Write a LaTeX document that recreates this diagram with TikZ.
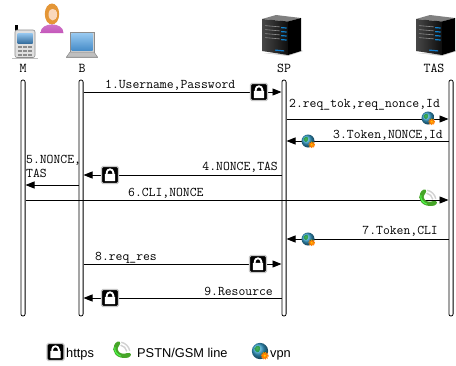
\documentclass[tikz,border=0pt]{standalone}
\usepackage{fontspec}
\setmainfont{Liberation Sans}
\usetikzlibrary{arrows.meta}

\definecolor{hair}{RGB}{228,150,55}
\definecolor{skin}{RGB}{250,216,188}
\definecolor{dress}{RGB}{196,86,186}
\definecolor{screenblue}{RGB}{70,140,200}
\definecolor{lightblue}{RGB}{150,200,240}
\definecolor{phonegreen}{RGB}{70,165,40}

\tikzset{
  % padlock badge for https
  lockicon/.pic={
    \draw[black!22, line width=1.2pt, fill=black, rounded corners=1.5pt] (-8.5,-8.5) rectangle (8.5,8.5);
    \fill[white, rounded corners=0.6pt] (-5.2,-6.2) rectangle (5.2,1.2);
    \draw[white, line width=1.9pt] (-3.3,0.5) -- (-3.3,2.4) arc[start angle=180, end angle=0, radius=3.3] -- (3.3,0.5);
  },
  % globe with gear for vpn
  globeicon/.pic={
    \shade[ball color=screenblue!80!cyan] (0,0) circle (6.5);
    \fill[green!55!black, opacity=0.65] (-4.5,2) .. controls (-2.5,5.5) and (1,4.5) .. (0,1) .. controls (-1,-2) and (-3.5,-1.5) .. cycle;
    \fill[green!50!black, opacity=0.55] (1,-2) .. controls (4,-1) and (5.5,2) .. (4.5,-3) -- cycle;
    \draw[orange, line width=1.3pt, dash pattern=on 1pt off 0.9pt] (3.8,-3.8) circle (2.6);
    \fill[orange] (3.8,-3.8) circle (2.3);
    \fill[yellow!70!orange] (3.8,-3.8) circle (0.9);
  },
  % telephone handset for PSTN/GSM
  phoneicon/.pic={
    \draw[black!18, line width=1.4pt] (-3,-3) ++(12:8) arc[start angle=12, end angle=78, radius=8];
    \draw[black!18, line width=1.4pt] (-3,-3) ++(12:11) arc[start angle=12, end angle=78, radius=11];
    \draw[phonegreen, line width=4.2pt, line cap=round] (-5.5,4.5) .. controls (-9,0) and (-4,-7.5) .. (4.5,-5.5);
    \fill[phonegreen, rotate around={50:(-4.8,5.4)}] (-4.8,5.4) ellipse (3.8 and 2.3);
    \fill[phonegreen, rotate around={20:(5.4,-5.4)}] (5.4,-5.4) ellipse (3.8 and 2.3);
    \draw[green!70!white, line width=1pt, line cap=round] (-7,2.5) .. controls (-7.8,-1) and (-5.5,-4.5) .. (-1.5,-6);
  },
  % rack server
  serverpic/.pic={
    \fill[black!20] (-18,-19) -- (6,-22) -- (21,-17) -- (19,-16) -- (6,-20) -- cycle;
    \fill[black!50] (-20,15) -- (6,12.5) -- (19,16) -- (-6,19) -- cycle;
    \shade[left color=black!72, right color=black!95] (-20,15) -- (6,12.5) -- (6,-21) -- (-20,-17) -- cycle;
    \fill[black] (6,12.5) -- (19,16) -- (19,-17) -- (6,-21) -- cycle;
    \foreach \yy in {8,4,0,-4} {
      \draw[black!45, line width=0.6pt] (-17,\yy+0.4) -- (-2,\yy-0.9);
      \fill[cyan!65!blue] (-1,\yy-1.0) -- (4.5,\yy-1.4) -- (4.5,\yy-2.6) -- (-1,\yy-2.2) -- cycle;
    }
    \fill[cyan!60!blue] (-7,-15.5) -- (2,-16.3) -- (2,-17.5) -- (-7,-16.7) -- cycle;
  },
  % user figure
  womanpic/.pic={
    \fill[hair] (0,4) ellipse (7.2 and 10.5);
    \shade[top color=dress!75, bottom color=dress] (-11.5,-15) .. controls (-11.5,-3.5) and (11.5,-3.5) .. (11.5,-15) -- cycle;
    \fill[skin] (0.8,3.5) ellipse (4.3 and 6);
    \fill[hair] (-5.5,7) .. controls (-4,15) and (5,15) .. (5.8,6) .. controls (3,10) and (-1,10) .. (-5.5,7) -- cycle;
  },
  % mobile handset
  mobilepic/.pic={
    \fill[black] (-10.5,13) rectangle (-7.5,19);
    \fill[black!25] (-13,-14.5) rectangle (13,-13.8);
    \draw[black!45, fill=black!12, rounded corners=2pt, line width=0.6pt] (-10,-13.5) rectangle (10,14);
    \shade[top color=lightblue, bottom color=screenblue!80!black] (-7.5,1) rectangle (7.5,11);
    \foreach \xx in {-5,0,5} \foreach \yy in {-2.5,-6.5,-10.5}
      \fill[black!45] (\xx-1.7,\yy-1) rectangle (\xx+1.7,\yy+1);
  },
  % laptop
  laptoppic/.pic={
    \draw[black!45, fill=black!18, line width=0.5pt] (-12,-7) rectangle (12,13);
    \shade[top color=lightblue, bottom color=screenblue] (-10.5,-5.5) rectangle (10.5,11.5);
    \draw[black!45, fill=black!25, line width=0.5pt] (-12,-7) -- (12,-7) -- (15.5,-12) -- (-15.5,-12) -- cycle;
    \fill[black!40] (-16,-12) rectangle (16,-13);
  },
  lifeline/.style={draw, line width=0.8pt, rounded corners=2pt, minimum width=4.2pt,
    minimum height=236pt, inner sep=0pt, fill=white},
  msg/.style={line width=0.9pt, -{Triangle[length=9pt,width=7pt]}},
  lbl/.style={font=\ttfamily\fontsize{13.3}{14}\selectfont, inner sep=0pt},
  headlbl/.style={font=\ttfamily\fontsize{13.5}{15}\selectfont, inner sep=0pt, anchor=base},
  legendlbl/.style={font=\fontsize{12.8}{14}\selectfont, inner sep=0pt, anchor=base west},
}

\begin{document}
\begin{tikzpicture}[x=1pt,y=1pt]
  \useasboundingbox (0,0) rectangle (456,-365);
  \fill[white] (0,0) rectangle (456,-365);

  % participants
  \pic at (25,-44) {mobilepic};
  \pic at (52,-18) {womanpic};
  \pic at (82,-45) {laptoppic};
  \pic at (282,-34) {serverpic};
  \pic at (436,-34) {serverpic};

  \node[headlbl] (hM) at (23,-72) {M};
  \node[headlbl] (hB) at (82,-72) {B};
  \node[headlbl] (hSP) at (284,-72) {SP};
  \node[headlbl] (hTAS) at (434,-72) {TAS};

  % lifelines
  \node[lifeline] (M) at (23,-198) {};
  \node[lifeline] (B) at (81,-198) {};
  \node[lifeline] (SP) at (284,-198) {};
  \node[lifeline] (TAS) at (451,-198) {};

  % 1
  \draw[msg] (B.east |- 0,-92) -- (SP.west |- 0,-92);
  \node[lbl, anchor=base west] (t1) at (105,-88) {1.Username,Password};
  \pic at (259,-92) {lockicon};
  % 2
  \draw[msg] (SP.east |- 0,-119) -- (TAS.west |- 0,-119);
  \node[lbl, anchor=base west] (t2) at (289,-107) {2.req\_tok,req\_nonce,Id};
  \pic at (428,-118) {globeicon};
  % 3
  \draw[msg] (TAS.west |- 0,-141) -- (SP.east |- 0,-141);
  \node[lbl, anchor=base east] (t3) at (443,-138) {3.Token,NONCE,Id};
  \pic at (308,-141) {globeicon};
  % 4
  \draw[msg] (SP.west |- 0,-175) -- (B.east |- 0,-175);
  \node[lbl, anchor=base east] (t4) at (278,-170) {4.NONCE,TAS};
  \pic at (110,-175) {lockicon};
  % 5
  \draw[msg] (B.west |- 0,-185) -- (M.east |- 0,-185);
  \node[lbl, anchor=base west] (t5a) at (26,-163) {5.NONCE,};
  \node[lbl, anchor=base west] (t5b) at (26,-177) {TAS};
  % 6
  \draw[msg] (M.east |- 0,-200) -- (TAS.west |- 0,-200);
  \node[lbl, anchor=base west] (t6) at (128,-196) {6.CLI,NONCE};
  \pic at (428,-198) {phoneicon};
  % 7
  \draw[msg] (TAS.west |- 0,-239) -- (SP.east |- 0,-239);
  \node[lbl, anchor=base east] (t7) at (438,-234) {7.Token,CLI};
  \pic at (308,-239) {globeicon};
  % 8
  \draw[msg] (B.east |- 0,-264) -- (SP.west |- 0,-264);
  \node[lbl, anchor=base west] (t8) at (95,-260) {8.req\_res};
  \pic at (258,-264) {lockicon};
  % 9
  \draw[msg] (SP.west |- 0,-298) -- (B.east |- 0,-298);
  \node[lbl, anchor=base east] (t9) at (273,-295) {9.Resource};
  \pic at (110,-298) {lockicon};

  % legend
  \pic at (55.5,-352) {lockicon};
  \node[legendlbl] (lg1) at (66,-357) {https};
  \pic at (122,-350) {phoneicon};
  \node[legendlbl] (lg2) at (137,-357) {PSTN/GSM line};
  \pic[scale=1.25] at (260,-351) {globeicon};
  \node[legendlbl] (lg3) at (270,-357) {vpn};
\end{tikzpicture}
\end{document}
